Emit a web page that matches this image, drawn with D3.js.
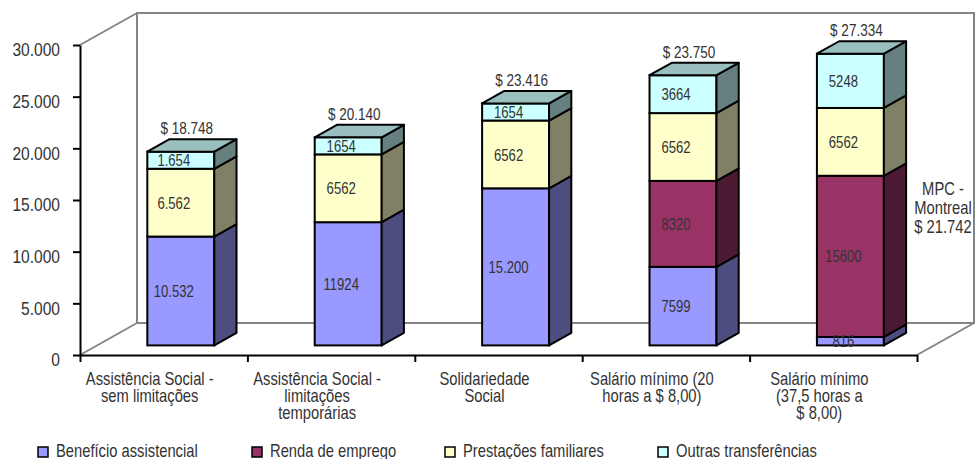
<!DOCTYPE html>
<html>
<head>
<meta charset="utf-8">
<script src="https://cdn.jsdelivr.net/npm/d3@7"></script>
<style>
  body { margin: 0; background: #fff; }
  svg text {
    font-family: "Liberation Sans", Arial, sans-serif;
    fill: #333;
  }
</style>
</head>
<body>
<div class="chart"></div>
<script>
const categories = [
  "Assistência Social -\nsem limitações",
  "Assistência Social -\nlimitações\ntemporárias",
  "Solidariedade\nSocial",
  "Salário mínimo (20\nhoras a $ 8,00)",
  "Salário mínimo\n(37,5 horas a\n$ 8,00)"
];
const seriesNames = ["Benefício assistencial", "Renda de emprego", "Prestações familiares", "Outras transferências"];
const beneficio = [10532, 11924, 15200, 7599, 816];
const renda = [0, 0, 0, 8320, 15600];
const prestacoes = [6562, 6562, 6562, 6562, 6562];
const outras = [1654, 1654, 1654, 3664, 5248];
const beneficioLabels = ["10.532", "11924", "15.200", "7599", "816"];
const rendaLabels = ["", "", "", "8320", "15600"];
const prestacoesLabels = ["6.562", "6562", "6562", "6562", "6562"];
const outrasLabels = ["1.654", "1654", "1654", "3664", "5248"];
const totals = [18748, 20140, 23416, 23750, 27334];
const yTicks = [0, 5000, 10000, 15000, 20000, 25000, 30000];
const mpcLines = ["MPC -", "Montreal", "$ 21.742"];

const colors = ["#9999FF", "#993366", "#FFFFCC", "#CCFFFF"];
const shade = (c, k) => {
  const r = d3.rgb(c);
  return d3.rgb(r.r * k, r.g * k, r.b * k).formatHex();
};

const ptLocale = d3.formatLocale({ decimal: ",", thousands: ".", grouping: [3], currency: ["$ ", ""] });
const fmt = ptLocale.format(",");

// the original uses a condensed face; squeeze a regular one horizontally
const squeeze = 0.82;
const narrow = (sel, x, y) => sel.attr("transform", `translate(${x},${y}) scale(${squeeze},1)`);

const svgWidth = 975;
const svgHeight = 459;
const svg = d3.select(".chart").append("svg")
  .attr("width", svgWidth).attr("height", svgHeight);

const plotLeft = 80, plotRight = 917, plotBottom = 355, plotTop = 45;
const depthX = 57, depthY = -32;   // 3d depth of the floor / walls
const f0 = 0.3, f1 = 0.69;          // bars sit between these depth fractions

const xScale = d3.scaleBand().domain(categories).range([plotLeft, plotRight]).padding(0);
const yScale = d3.scaleLinear().domain([0, 30000]).range([plotBottom, plotTop]);
const bw = xScale.bandwidth();
const barW = bw * 0.4;

// walls
const wall = svg.append("g").attr("stroke", "#858585").attr("stroke-width", 2).attr("fill", "none");
const bx0 = plotLeft + depthX, bx1 = plotRight + depthX;
const byTop = plotTop + depthY, byBot = plotBottom + depthY;
wall.append("path").attr("d", `M${bx0},${byBot}V${byTop}H${bx1 + 2}`);
wall.append("path").attr("d", `M${bx0},${byBot}H${bx1}V${byTop}`);
wall.append("path").attr("d", `M${plotLeft},${plotTop}L${bx0},${byTop}`);
wall.append("path").attr("d", `M${plotLeft},${plotBottom}L${bx0},${byBot}`);
wall.append("path").attr("d", `M${plotRight},${plotBottom}L${bx1},${byBot}`);

// axes
const yAxisG = svg.append("g")
  .attr("transform", `translate(${plotLeft},0)`)
  .call(d3.axisLeft(yScale).tickValues(yTicks).tickFormat(fmt).tickSize(7).tickSizeOuter(0).tickPadding(13));
yAxisG.selectAll("path, line").attr("stroke", "#000").attr("stroke-width", 2);
yAxisG.selectAll("text")
  .attr("x", null).attr("dy", "0.36em")
  .attr("transform", `translate(-20,4) scale(${squeeze},1)`)
  .style("font-size", "19px").attr("fill", "#333");

const xTick = d3.scaleLinear().domain([0, categories.length]).range([plotLeft, plotRight]);
const xAxisG = svg.append("g")
  .attr("transform", `translate(0,${plotBottom})`)
  .call(d3.axisBottom(xTick).tickValues(d3.range(categories.length + 1)).tickFormat("").tickSize(7).tickSizeOuter(0));
xAxisG.selectAll("path, line").attr("stroke", "#000").attr("stroke-width", 2);

// category labels
categories.forEach((c) => {
  const t = svg.append("text")
    .attr("text-anchor", "middle")
    .style("font-size", "18px")
    .call(narrow, xScale(c) + bw / 2 - 14, 385);
  c.split("\n").forEach((line, i) => {
    t.append("tspan").attr("x", 0).attr("dy", i === 0 ? 0 : 17).text(line);
  });
});

// 3d stacked bars
const series = [beneficio, renda, prestacoes, outras];
const seriesLabels = [beneficioLabels, rendaLabels, prestacoesLabels, outrasLabels];
const dx0 = f0 * depthX, dy0 = f0 * depthY;
const ddx = (f1 - f0) * depthX, ddy = (f1 - f0) * depthY;

const barsG = svg.append("g");
categories.forEach((c, ci) => {
  const x0 = xScale(c) + (bw - barW) / 2 + dx0;
  const x1 = x0 + barW;
  const g = barsG.append("g");
  let acc = 0;
  const segs = [];
  series.forEach((s, si) => {
    if (s[ci] > 0) {
      segs.push({ si, v0: acc, v1: acc + s[ci], label: seriesLabels[si][ci] });
      acc += s[ci];
    }
  });
  segs.forEach((d, k) => {
    const yb = yScale(d.v0) + dy0;
    const yt = yScale(d.v1) + dy0;
    g.append("rect")
      .attr("x", x0).attr("y", yt).attr("width", barW).attr("height", yb - yt)
      .attr("fill", colors[d.si]).attr("stroke", "#000").attr("stroke-width", 2);
    g.append("path")
      .attr("d", `M${x1},${yt}L${x1 + ddx},${yt + ddy}L${x1 + ddx},${yb + ddy}L${x1},${yb}Z`)
      .attr("fill", shade(colors[d.si], 0.5)).attr("stroke", "#000").attr("stroke-width", 2)
      .attr("stroke-linejoin", "round");
    if (k === segs.length - 1) {
      g.append("path")
        .attr("d", `M${x0},${yt}L${x0 + ddx},${yt + ddy}L${x1 + ddx},${yt + ddy}L${x1},${yt}Z`)
        .attr("fill", shade(colors[d.si], 0.75)).attr("stroke", "#000").attr("stroke-width", 2)
        .attr("stroke-linejoin", "round");
    }
  });
  segs.forEach((d) => {
    const ym = (yScale(d.v0) + yScale(d.v1)) / 2 + dy0;
    g.append("text")
      .attr("dy", "0.38em")
      .attr("text-anchor", "middle")
      .style("font-size", "16px")
      .call(narrow, x0 + barW / 2 - 7, ym)
      .text(d.label);
  });
  g.append("text")
    .attr("text-anchor", "middle")
    .style("font-size", "16.5px")
    .call(narrow, x0 + barW / 2 + 6, yScale(acc) + dy0 + ddy - 5)
    .text("$ " + fmt(totals[ci]));
});

// MPC note
const mpc = svg.append("text").attr("text-anchor", "middle").style("font-size", "18px")
  .call(narrow, 943, 195);
mpcLines.forEach((line, i) => {
  mpc.append("tspan").attr("x", 0).attr("y", i * 19).text(line);
});

// legend
const legendX = [38, 252, 445, 658];
const legend = svg.append("g");
seriesNames.forEach((name, i) => {
  legend.append("rect")
    .attr("x", legendX[i]).attr("y", 447).attr("width", 10).attr("height", 10)
    .attr("fill", colors[i]).attr("stroke", "#000").attr("stroke-width", 1.5);
  legend.append("text")
    .style("font-size", "18px")
    .call(narrow, legendX[i] + 18, 457)
    .text(name);
});
</script>
</body>
</html>
